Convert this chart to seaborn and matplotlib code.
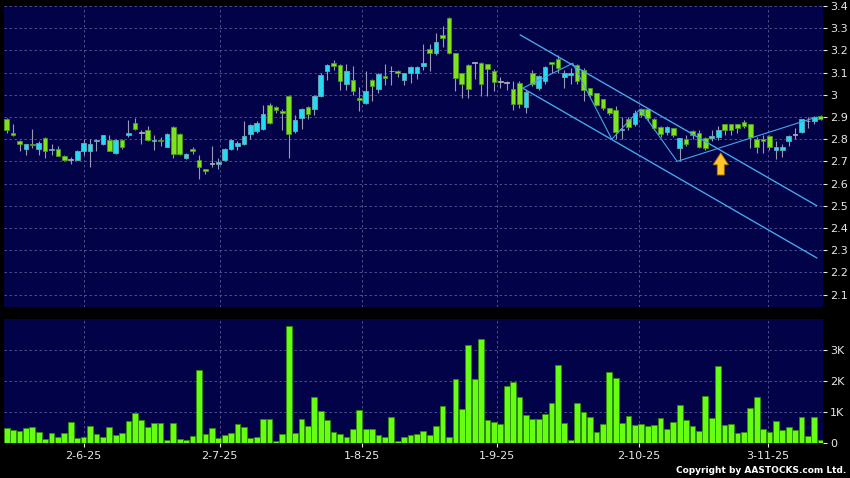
import matplotlib
matplotlib.use("Agg")
import matplotlib.pyplot as plt
import seaborn as sns
import numpy as np
import pandas as pd

# daily candles, mid May -> mid Nov 2025 (HK trading days)
opens = [2.89, 2.83, 2.79, 2.755, 2.78, 2.755, 2.805, 2.75, 2.755, 2.725,
         2.705, 2.705, 2.745, 2.745, 2.79, 2.78, 2.795, 2.74, 2.795, 2.818,
         2.875, 2.83, 2.84, 2.79, 2.795, 2.765, 2.855, 2.825, 2.715, 2.755,
         2.705, 2.665, 2.688, 2.688, 2.705, 2.755, 2.768, 2.78, 2.825, 2.835,
         2.845, 2.955, 2.945, 2.925, 2.995, 2.835, 2.895, 2.945, 2.935, 2.995,
         3.105, 3.145, 3.135, 3.05, 3.065, 2.985, 2.965, 3.065, 3.025, 3.085,
         3.105, 3.105, 3.065, 3.097, 3.10, 3.13, 3.205, 3.187, 3.27, 3.345,
         3.187, 3.097, 3.134, 3.145, 3.145, 3.137, 3.107, 3.056, 3.055, 3.025,
         3.055, 2.946, 3.10, 3.03, 3.06, 3.15, 3.16, 3.082, 3.09, 3.134,
         3.112, 3.03, 3.007, 2.98, 2.94, 2.93, 2.84, 2.89, 2.867, 2.935,
         2.935, 2.89, 2.856, 2.834, 2.849, 2.759, 2.80, 2.838, 2.83, 2.804,
         2.807, 2.808, 2.867, 2.867, 2.867, 2.879, 2.867, 2.80, 2.80, 2.816,
         2.751, 2.751, 2.792, 2.82, 2.834, 2.88, 2.88, 2.906]
highs = [2.895, 2.87, 2.795, 2.78, 2.845, 2.79, 2.81, 2.78, 2.77, 2.73,
         2.72, 2.75, 2.80, 2.80, 2.80, 2.82, 2.82, 2.80, 2.80, 2.886,
         2.895, 2.84, 2.86, 2.82, 2.81, 2.83, 2.86, 2.83, 2.74, 2.765,
         2.73, 2.665, 2.77, 2.715, 2.76, 2.80, 2.79, 2.88, 2.87, 2.88,
         2.955, 2.965, 2.95, 2.935, 3.0, 2.91, 2.94, 2.95, 3.0, 3.10,
         3.14, 3.155, 3.14, 3.14, 3.13, 3.035, 3.105, 3.07, 3.10, 3.14,
         3.13, 3.11, 3.10, 3.13, 3.13, 3.23, 3.23, 3.277, 3.31, 3.35,
         3.19, 3.10, 3.14, 3.15, 3.15, 3.14, 3.115, 3.08, 3.06, 3.06,
         3.06, 3.02, 3.11, 3.09, 3.13, 3.15, 3.18, 3.11, 3.12, 3.14,
         3.12, 3.03, 3.01, 2.98, 2.94, 2.95, 2.90, 2.90, 2.93, 2.94,
         2.94, 2.895, 2.86, 2.86, 2.85, 2.804, 2.82, 2.84, 2.84, 2.81,
         2.84, 2.86, 2.87, 2.87, 2.87, 2.885, 2.87, 2.81, 2.82, 2.82,
         2.79, 2.78, 2.82, 2.85, 2.89, 2.90, 2.905, 2.91]
lows = [2.83, 2.815, 2.745, 2.73, 2.76, 2.73, 2.715, 2.73, 2.725, 2.70,
        2.69, 2.705, 2.73, 2.675, 2.745, 2.775, 2.745, 2.735, 2.755, 2.81,
        2.84, 2.78, 2.79, 2.75, 2.77, 2.765, 2.715, 2.73, 2.71, 2.735,
        2.62, 2.645, 2.675, 2.665, 2.70, 2.75, 2.75, 2.775, 2.80, 2.83,
        2.84, 2.87, 2.92, 2.84, 2.715, 2.83, 2.845, 2.89, 2.91, 2.99,
        3.065, 3.11, 3.02, 3.02, 3.0, 2.925, 2.96, 2.97, 3.01, 3.045,
        3.045, 3.08, 3.045, 3.055, 3.07, 3.11, 3.105, 3.18, 3.215, 3.185,
        3.015, 2.985, 2.985, 3.07, 2.995, 2.995, 3.015, 3.03, 3.02, 2.93,
        2.94, 2.917, 3.04, 3.02, 3.05, 3.10, 3.10, 3.03, 3.05, 3.05,
        2.97, 2.99, 2.95, 2.93, 2.91, 2.80, 2.80, 2.84, 2.86, 2.90,
        2.88, 2.84, 2.81, 2.82, 2.81, 2.70, 2.77, 2.80, 2.76, 2.75,
        2.79, 2.795, 2.82, 2.82, 2.83, 2.85, 2.76, 2.74, 2.74, 2.75,
        2.71, 2.72, 2.77, 2.80, 2.83, 2.85, 2.87, 2.885]
closes = [2.84, 2.82, 2.78, 2.78, 2.775, 2.785, 2.745, 2.755, 2.725, 2.705,
          2.705, 2.745, 2.785, 2.78, 2.795, 2.82, 2.745, 2.795, 2.765, 2.826,
          2.845, 2.83, 2.795, 2.795, 2.79, 2.825, 2.735, 2.735, 2.735, 2.748,
          2.675, 2.655, 2.688, 2.696, 2.755, 2.795, 2.785, 2.815, 2.865, 2.875,
          2.915, 2.875, 2.93, 2.92, 2.825, 2.885, 2.935, 2.915, 2.995, 3.09,
          3.135, 3.13, 3.06, 3.105, 3.015, 2.975, 3.015, 3.04, 3.095, 3.075,
          3.105, 3.097, 3.097, 3.127, 3.127, 3.145, 3.187, 3.236, 3.255, 3.187,
          3.075, 3.047, 3.025, 3.145, 3.047, 3.115, 3.056, 3.056, 3.055, 2.957,
          2.957, 3.014, 3.047, 3.085, 3.127, 3.137, 3.12, 3.10, 3.10, 3.06,
          3.022, 3.0, 2.954, 2.94, 2.92, 2.834, 2.845, 2.856, 2.92, 2.91,
          2.894, 2.849, 2.822, 2.856, 2.819, 2.804, 2.778, 2.819, 2.766, 2.759,
          2.816, 2.841, 2.841, 2.84, 2.849, 2.86, 2.808, 2.766, 2.792, 2.766,
          2.766, 2.766, 2.816, 2.82, 2.89, 2.88, 2.90, 2.89]
volume_k = [0.48, 0.41, 0.375, 0.49, 0.51, 0.34, 0.13, 0.32, 0.18, 0.32,
            0.69, 0.17, 0.18, 0.55, 0.30, 0.19, 0.51, 0.27, 0.32, 0.71,
            0.98, 0.75, 0.53, 0.64, 0.64, 0.11, 0.65, 0.14, 0.10, 0.24,
            2.34, 0.28, 0.47, 0.16, 0.26, 0.32, 0.61, 0.53, 0.16, 0.18,
            0.78, 0.79, 0.06, 0.30, 3.78, 0.32, 0.77, 0.56, 1.50, 1.02,
            0.75, 0.36, 0.29, 0.19, 0.46, 1.08, 0.45, 0.45, 0.25, 0.20,
            0.84, 0.05, 0.19, 0.25, 0.28, 0.39, 0.27, 0.54, 1.19, 0.20,
            2.06, 1.09, 3.16, 2.07, 3.37, 0.74, 0.68, 0.60, 1.85, 1.98,
            1.50, 0.91, 0.76, 0.76, 0.93, 1.30, 2.53, 0.65, 0.09, 1.28,
            0.99, 0.84, 0.36, 0.60, 2.29, 2.09, 0.63, 0.87, 0.59, 0.62,
            0.54, 0.57, 0.81, 0.46, 0.68, 1.23, 0.75, 0.54, 0.39, 1.51,
            0.81, 2.47, 0.57, 0.62, 0.33, 0.36, 1.14, 1.48, 0.46, 0.36,
            0.72, 0.42, 0.51, 0.43, 0.84, 0.21, 0.85, 0.10]

date_ticks = [12, 33.2, 55.4, 76.5, 98.6, 118.8]
date_labels = ["2-6-25", "2-7-25", "1-8-25", "1-9-25", "2-10-25", "3-11-25"]
price_ticks = [2.1, 2.2, 2.3, 2.4, 2.5, 2.6, 2.7, 2.8, 2.9, 3.0, 3.1, 3.2, 3.3, 3.4]
vol_ticks = [0, 1, 2, 3]
vol_labels = ["0", "1K", "2K", "3K"]

# drawn trend lines (candle index, price)
upper_channel = [(80.1, 3.27), (126.4, 2.50)]
lower_channel = [(80.5, 3.03), (126.4, 2.265)]
zigzag = [(80.5, 3.03), (88.3, 3.142), (94.4, 2.80), (98.8, 2.935), (104.6, 2.70), (126.4, 2.90)]
arrow_at = (111.4, 2.738)

df = pd.DataFrame({"open": opens, "high": highs, "low": lows, "close": closes, "vol": volume_k})
df["idx"] = np.arange(len(df))

bg = "#020248"
grid_c = "#5a5a92"
txt = "#e8e8e8"
green = "#7ee21e"
cyan = "#22dcf0"

sns.set_style("dark")
plt.rcParams["font.family"] = ["DejaVu Sans"]

fig = plt.figure(figsize=(8.5, 4.78), dpi=100, facecolor="black")
ax = fig.add_axes([4 / 850, 1 - 307 / 478, 819 / 850, 301 / 478])
axv = fig.add_axes([4 / 850, 1 - 443 / 478, 819 / 850, 124 / 478])

xlim = (-0.42, 127.35)

for a in (ax, axv):
    a.set_facecolor(bg)
    for s in a.spines.values():
        s.set_visible(False)
    a.grid(True, color=grid_c, linestyle=(0, (3, 3)), linewidth=0.6)
    a.set_axisbelow(True)

# candles
up = df["close"] > df["open"]
flat = (df["close"] - df["open"]).abs() < 0.002
body_c = np.where(flat, "#a8a8b8", np.where(up, cyan, green))
edge_c = np.where(flat, "#a8a8b8", np.where(up, "#6aa8b8", "#4e9a1e"))
bottom = df[["open", "close"]].min(axis=1)
height = (df["close"] - df["open"]).abs().clip(lower=0.004)
ax.vlines(df["idx"], df["low"], df["high"], color="#9a9ab4", linewidth=0.8, zorder=2)
ax.bar(df["idx"], height, bottom=bottom, width=0.72, color=body_c,
       edgecolor=edge_c, linewidth=0.6, zorder=3)

for pts, lw in ((upper_channel, 1.0), (lower_channel, 1.0), (zigzag, 0.8)):
    xs, ys = zip(*pts)
    ax.plot(xs, ys, color="#45a6e6", linewidth=lw, zorder=4)

ax.annotate("", xy=arrow_at, xytext=(arrow_at[0], arrow_at[1] - 0.099),
            arrowprops=dict(arrowstyle="simple,head_length=0.85,head_width=1.1,tail_width=0.5",
                            fc="#ffc62a", ec="#b07a00", lw=0.6, mutation_scale=10,
                            shrinkA=0, shrinkB=0), zorder=5)

ax.set_xlim(*xlim)
ax.set_ylim(3.4 - 301 / 222.0, 3.4)
ax.set_yticks(price_ticks)
ax.set_yticklabels([f"{v:g}" for v in price_ticks])
ax.set_xticks(date_ticks)
ax.tick_params(axis="x", bottom=False, labelbottom=False)
ax.tick_params(axis="y", left=False, labelleft=False, right=True, labelright=True,
               colors=txt, length=3, width=0.8, pad=2, labelsize=8)

# volume
sns.barplot(data=df, x="idx", y="vol", native_scale=True, color="#66ff14",
            saturation=1, edgecolor="#2f8a00", linewidth=0.6, width=0.9,
            errorbar=None, ax=axv, zorder=3)
axv.set_xlim(*xlim)
axv.set_ylim(0, 4.0)
axv.set_yticks(vol_ticks)
axv.set_yticklabels(vol_labels)
axv.set_xticks(date_ticks)
axv.set_xticklabels(date_labels)
axv.set_xlabel("")
axv.set_ylabel("")
axv.tick_params(axis="y", left=False, labelleft=False, right=True, labelright=True,
                colors=txt, length=3, width=0.8, pad=2, labelsize=8)
axv.tick_params(axis="x", bottom=True, colors=txt, length=3, width=0.8, pad=3, labelsize=8)

fig.text(0.995, 0.006, "Copyright by AASTOCKS.com Ltd.", ha="right", va="bottom",
         color="white", fontsize=6.5, fontweight="bold")

fig.savefig("out.png", dpi=100, facecolor="black")
